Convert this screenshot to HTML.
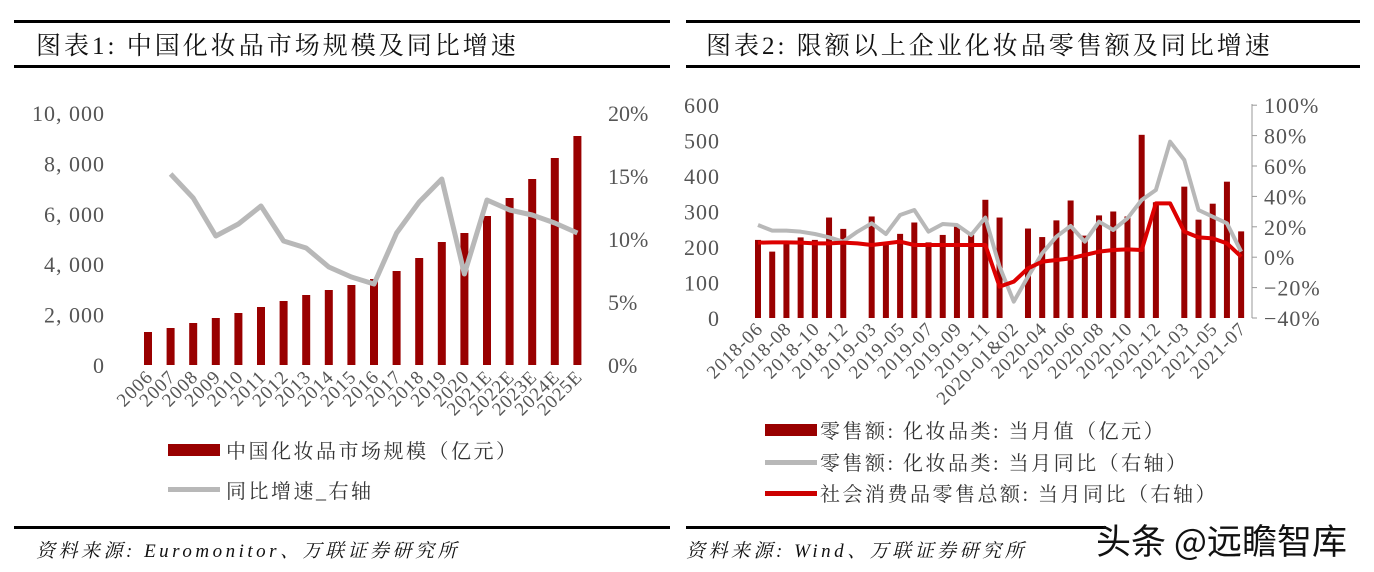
<!DOCTYPE html>
<html><head><meta charset="utf-8"><style>
html,body{margin:0;padding:0;background:#fff;}
svg{display:block;font-family:"Liberation Serif","Noto Serif CJK SC",serif;}
</style></head><body>
<svg id="s" width="1374" height="572" xmlns="http://www.w3.org/2000/svg">
<rect width="1374" height="572" fill="#fff"/>
<rect x="14" y="20" width="656" height="3" fill="#000"/>
<rect x="14" y="65" width="656" height="3" fill="#000"/>
<rect x="686" y="20" width="674" height="3" fill="#000"/>
<rect x="686" y="65" width="674" height="3" fill="#000"/>
<rect x="14" y="526" width="656" height="3" fill="#000"/>
<rect x="686" y="526" width="420" height="3" fill="#000"/>
<text x="36" y="54" font-size="25" letter-spacing="3" fill="#111">图表1:  中国化妆品市场规模及同比增速</text>
<text x="706" y="54" font-size="25" letter-spacing="3" fill="#111">图表2:  限额以上企业化妆品零售额及同比增速</text>
<text x="36" y="557" font-size="19" font-style="italic" letter-spacing="3.5" fill="#111">资料来源: Euromonitor、万联证券研究所</text>
<text x="686" y="557" font-size="19" font-style="italic" letter-spacing="3.5" fill="#111">资料来源: Wind、万联证券研究所</text>
<text x="1096" y="554" font-size="35" font-family="'Noto Sans CJK SC',sans-serif" fill="#111">头条 @远瞻智库</text>
<g id="g"></g>
</svg>
<script>
var g=document.getElementById('g'),h='';
function T(x,y,t,o){h+='<text x="'+x+'" y="'+y+'" '+(o||'')+'>'+t+'</text>';}
var yl=['0','2, 000','4, 000','6, 000','8, 000','10, 000'];
for(var i=0;i<6;i++){T(105,365-i*50.4+8,yl[i],'font-size="22" letter-spacing="1" fill="#555" text-anchor="end"');}
var yr=['0%','5%','10%','15%','20%'];
for(var i=0;i<5;i++){T(608,365-i*63+8,yr[i],'font-size="22" fill="#555"');}
var tops=[332,328,323,318,313,307,301,295,290,285,279,271,258,242,233,216,198,179,158,136];
var yrs=['2006','2007','2008','2009','2010','2011','2012','2013','2014','2015','2016','2017','2018','2019','2020','2021E','2022E','2023E','2024E','2025E'];
for(var i=0;i<20;i++){var x=148+i*22.6;h+='<rect x="'+(x-4)+'" y="'+tops[i]+'" width="8" height="'+(365-tops[i])+'" fill="#990000"/>';
T(x+6,378,yrs[i],'font-size="19" letter-spacing="1" fill="#555" text-anchor="end" transform="rotate(-45 '+(x+6)+' 378)"');}
var ln=[174,198,236,224,206,241,248,267,277,284,233,202,179,274,200,210,215,223,233],p=[];
for(var i=0;i<19;i++)p.push((148+(i+1)*22.6)+','+ln[i]);
h+='<polyline points="'+p.join(' ')+'" fill="none" stroke="#b8b8b8" stroke-width="5" stroke-linejoin="round"/>';
h+='<rect x="168" y="444" width="52" height="12" fill="#990000"/>';
T(226,458,'中国化妆品市场规模（亿元）','font-size="20" letter-spacing="2.5" fill="#333"');
h+='<rect x="168" y="487" width="52" height="5" fill="#b8b8b8"/>';
T(226,498,'同比增速_右轴','font-size="20" letter-spacing="2.5" fill="#333"');
for(var i=0;i<7;i++){T(720,318-i*35.5+8,String(i*100),'font-size="22" letter-spacing="1" fill="#555" text-anchor="end"');}
h+='<line x1="1252" y1="104" x2="1252" y2="318" stroke="#999" stroke-width="1"/>';
for(var i=0;i<8;i++){var y=318-i*30.4;h+='<line x1="1252" y1="'+y+'" x2="1257" y2="'+y+'" stroke="#999"/>';
var v=-40+i*20;T(1264,y+8,(v<0?'−':'')+Math.abs(v)+'%','font-size="22" letter-spacing="1" fill="#555"');}
var bv=[220,187,213,227,220,283,251,0,286,211,237,269,213,234,258,234,333,283,0,252,228,275,331,232,289,300,286,516,326,0,370,277,322,384,244];
function X(i){return 758+i*14.21;}
for(var i=0;i<35;i++){if(bv[i]){var t=318-bv[i]*0.355;h+='<rect x="'+(X(i)-3)+'" y="'+t+'" width="6" height="'+(318-t)+'" fill="#990000"/>';}}
var gy=[435,452,452,455,462,472,485,455,430,462,405,390,455,432,435,465,413,560,665,590,520,470,438,485,425,450,415,360,330,185,240,390,410,430,515];
var ry=[488,487,487,488,490,490,488,490,495,490,485,495,495,495,495,495,495,620,605,565,545,540,535,525,515,510,508,510,370,370,455,472,475,490,530];
var pg=[],pr=[];for(var i=0;i<35;i++){pg.push(X(i)+','+(gy[i]/3+80));pr.push(X(i)+','+(ry[i]/3+80));}
h+='<polyline points="'+pg.join(' ')+'" fill="none" stroke="#b8b8b8" stroke-width="4" stroke-linejoin="round"/>';
h+='<polyline points="'+pr.join(' ')+'" fill="none" stroke="#dd0000" stroke-width="4" stroke-linejoin="round"/>';
var lb=['2018-06','2018-08','2018-10','2018-12','2019-03','2019-05','2019-07','2019-09','2019-11','2020-01&amp;02','2020-04','2020-06','2020-08','2020-10','2020-12','2021-03','2021-05','2021-07'];
for(var i=0;i<18;i++){var x=X(i*2)+6;T(x,330,lb[i],'font-size="19" letter-spacing="1" fill="#555" text-anchor="end" transform="rotate(-45 '+x+' 330)"');}
h+='<rect x="765" y="424" width="52" height="12" fill="#990000"/>';
T(820,438,'零售额: 化妆品类: 当月值（亿元）','font-size="20" letter-spacing="2.5" fill="#333"');
h+='<rect x="765" y="460" width="52" height="5" fill="#b8b8b8"/>';
T(820,470,'零售额: 化妆品类: 当月同比（右轴）','font-size="20" letter-spacing="2.5" fill="#333"');
h+='<rect x="765" y="491" width="52" height="5" fill="#cc0000"/>';
T(820,501,'社会消费品零售总额: 当月同比（右轴）','font-size="20" letter-spacing="2.5" fill="#333"');
g.innerHTML=h;
</script>
</body></html>
